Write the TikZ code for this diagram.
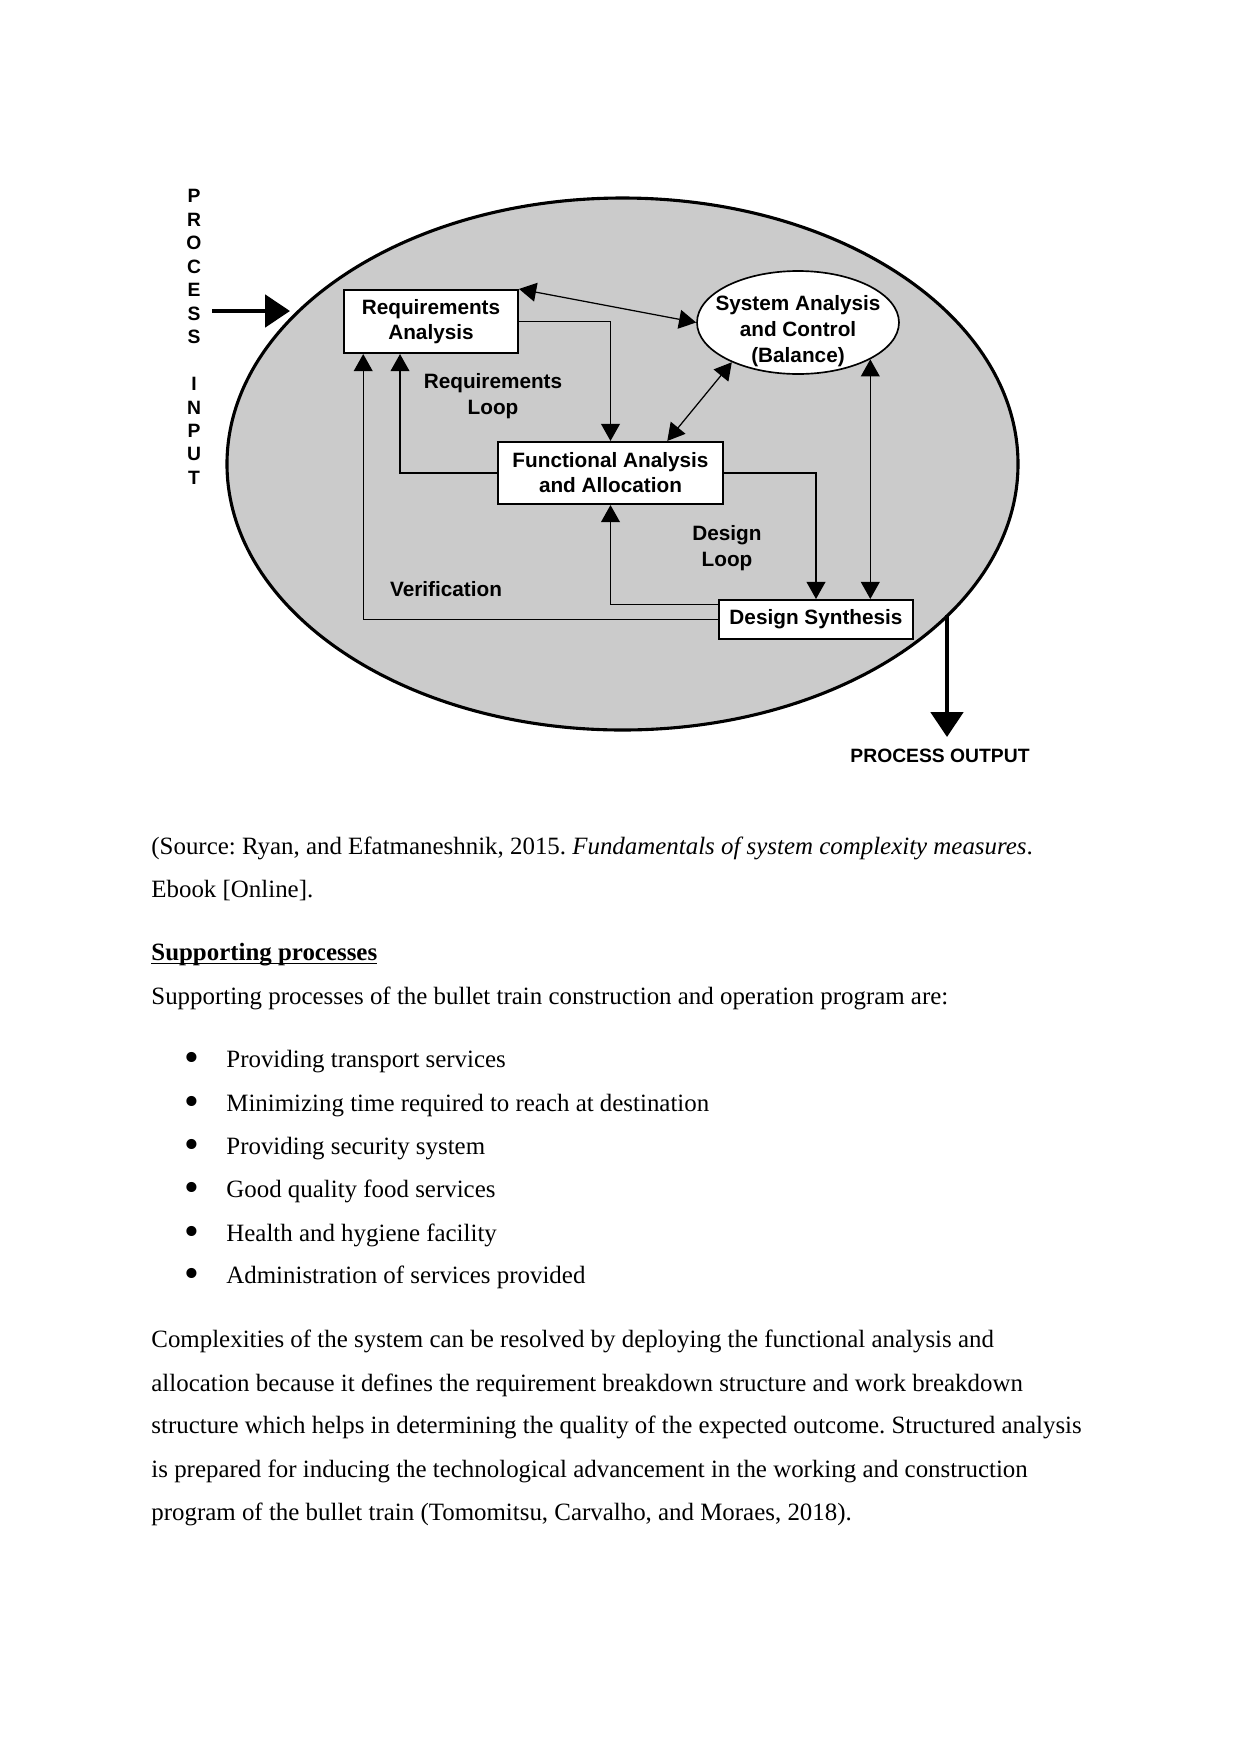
\documentclass[tikz,border=0pt]{standalone}
\usepackage{fontspec}
\setmainfont{Liberation Serif}
\setsansfont{Liberation Sans}
\usetikzlibrary{arrows.meta,shapes.geometric,calc}

\definecolor{loopgray}{RGB}{203,203,203}
\newcommand{\listdot}{\raisebox{-2.2pt}{\scalebox{1.7}{\textbullet}}}
\frenchspacing

\begin{document}
\begin{tikzpicture}[x=0.16933mm,y=-0.16933mm]

\tikzset{SeBox/.style={draw,line width=1pt,fill=white,inner sep=0pt,align=center,font=\sffamily\bfseries\fontsize{10}{12}\selectfont},
  SeLabel/.style={align=center,font=\sffamily\bfseries\fontsize{10}{12.5}\selectfont},
  SeCaps/.style={align=center,inner sep=0pt,font=\sffamily\bfseries\fontsize{9.3}{11.3}\selectfont},
  flow/.style={line width=0.6pt,-{Triangle[length=2.9mm,width=3.2mm]}},
  flowboth/.style={line width=0.6pt,{Triangle[length=2.9mm,width=3.2mm]}-{Triangle[length=2.9mm,width=3.2mm]}},
  bigflow/.style={line width=2.3pt,-{Triangle[length=4.2mm,width=5.4mm]}},
  body/.style={anchor=base west,inner sep=0pt,font=\fontsize{12}{14}\selectfont}};

\useasboundingbox (0,0) rectangle (1241,1754);
\fill[white] (0,0) rectangle (1241,1754);

% the process
\draw[line width=1.5pt,fill=loopgray] (622.5,464) ellipse [x radius=66.97mm, y radius=45.04mm];

\node[SeCaps] (pin) at (194,337) {P\\R\\O\\C\\E\\S\\S\\\mbox{}\\I\\N\\P\\U\\T};
\coordinate (instart) at (212,311);
\coordinate (inend) at (290,311);
\draw[bigflow] (instart) -- (inend);

\node[SeBox,minimum width=29.46mm,minimum height=10.67mm] (req) at (431,321.5) {Requirements\\Analysis};
\node[SeBox,minimum width=38.10mm,minimum height=10.50mm] (fun) at (610.5,473) {Functional Analysis\\and Allocation};
\node[SeBox,minimum width=32.85mm,minimum height=6.60mm] (syn) at (816,619.5) {Design Synthesis};
\node[draw,ellipse,line width=0.8pt,fill=white,inner sep=0pt,minimum width=34.2mm,minimum height=17.44mm] (bal) at (798,322.5) {};
\node[SeLabel] (baltext) at (798,331) {System Analysis\\and Control\\(Balance)};

\node[SeLabel] (reqloop) at (493,396) {Requirements\\Loop};
\node[SeLabel] (desloop) at (727,548.5) {Design\\Loop};
\node[SeLabel] (verif) at (446,589) {Verification};

% loops
\draw[flowboth] (req.north east) -- (bal.west);
\draw[flow] (req.east) -| (fun.north);
\draw[flowboth] (bal.211.6) -- ($(fun.north west)!0.75!(fun.north east)$);
\draw[flow] (fun.west) -| ($(req.south west)!0.324!(req.south east)$);
\draw[flow] (syn.west) -| ($(req.south west)!0.115!(req.south east)$);
\draw[flow] ($(syn.north west)!0.13!(syn.south west)$) -| (fun.south);
\draw[flow] (fun.east) -| (syn.north);
\draw[flowboth] (bal.333.4) -- (bal.333.4 |- syn.north);

\coordinate (outstart) at (947,615);
\coordinate (outend) at (947,737);
\draw[bigflow] (outstart) -- (outend);
\node[SeCaps] (pout) at (940,756) {PROCESS OUTPUT};

% text of the page
\node[body] (src1) at (151,854) {(Source: Ryan, and Efatmaneshnik, 2015. \textit{Fundamentals of system complexity measures}.};
\node[body] (src2) at (151,897) {Ebook [Online].};
\node[body] (head) at (151,960) {\underline{\smash{\textbf{Supporting processes}}}};
\node[body] (intro) at (151,1004) {Supporting processes of the bullet train construction and operation program are:};

\node[body,anchor=base] (b1) at (192,1067) {\listdot};
\node[body] (i1) at (226,1067) {Providing transport services};
\node[body,anchor=base] (b2) at (192,1111) {\listdot};
\node[body] (i2) at (226,1111) {Minimizing time required to reach at destination};
\node[body,anchor=base] (b3) at (192,1154) {\listdot};
\node[body] (i3) at (226,1154) {Providing security system};
\node[body,anchor=base] (b4) at (192,1197) {\listdot};
\node[body] (i4) at (226,1197) {Good quality food services};
\node[body,anchor=base] (b5) at (192,1241) {\listdot};
\node[body] (i5) at (226,1241) {Health and hygiene facility};
\node[body,anchor=base] (b6) at (192,1283) {\listdot};
\node[body] (i6) at (226,1283) {Administration of services provided};

\node[body] (p1) at (151,1347) {Complexities of the system can be resolved by deploying the functional analysis and};
\node[body] (p2) at (151,1391) {allocation because it defines the requirement breakdown structure and work breakdown};
\node[body] (p3) at (151,1433) {structure which helps in determining the quality of the expected outcome. Structured analysis};
\node[body] (p4) at (151,1477) {is prepared for inducing the technological advancement in the working and construction};
\node[body] (p5) at (151,1520) {program of the bullet train (Tomomitsu, Carvalho, and Moraes, 2018).};

\end{tikzpicture}
\end{document}
